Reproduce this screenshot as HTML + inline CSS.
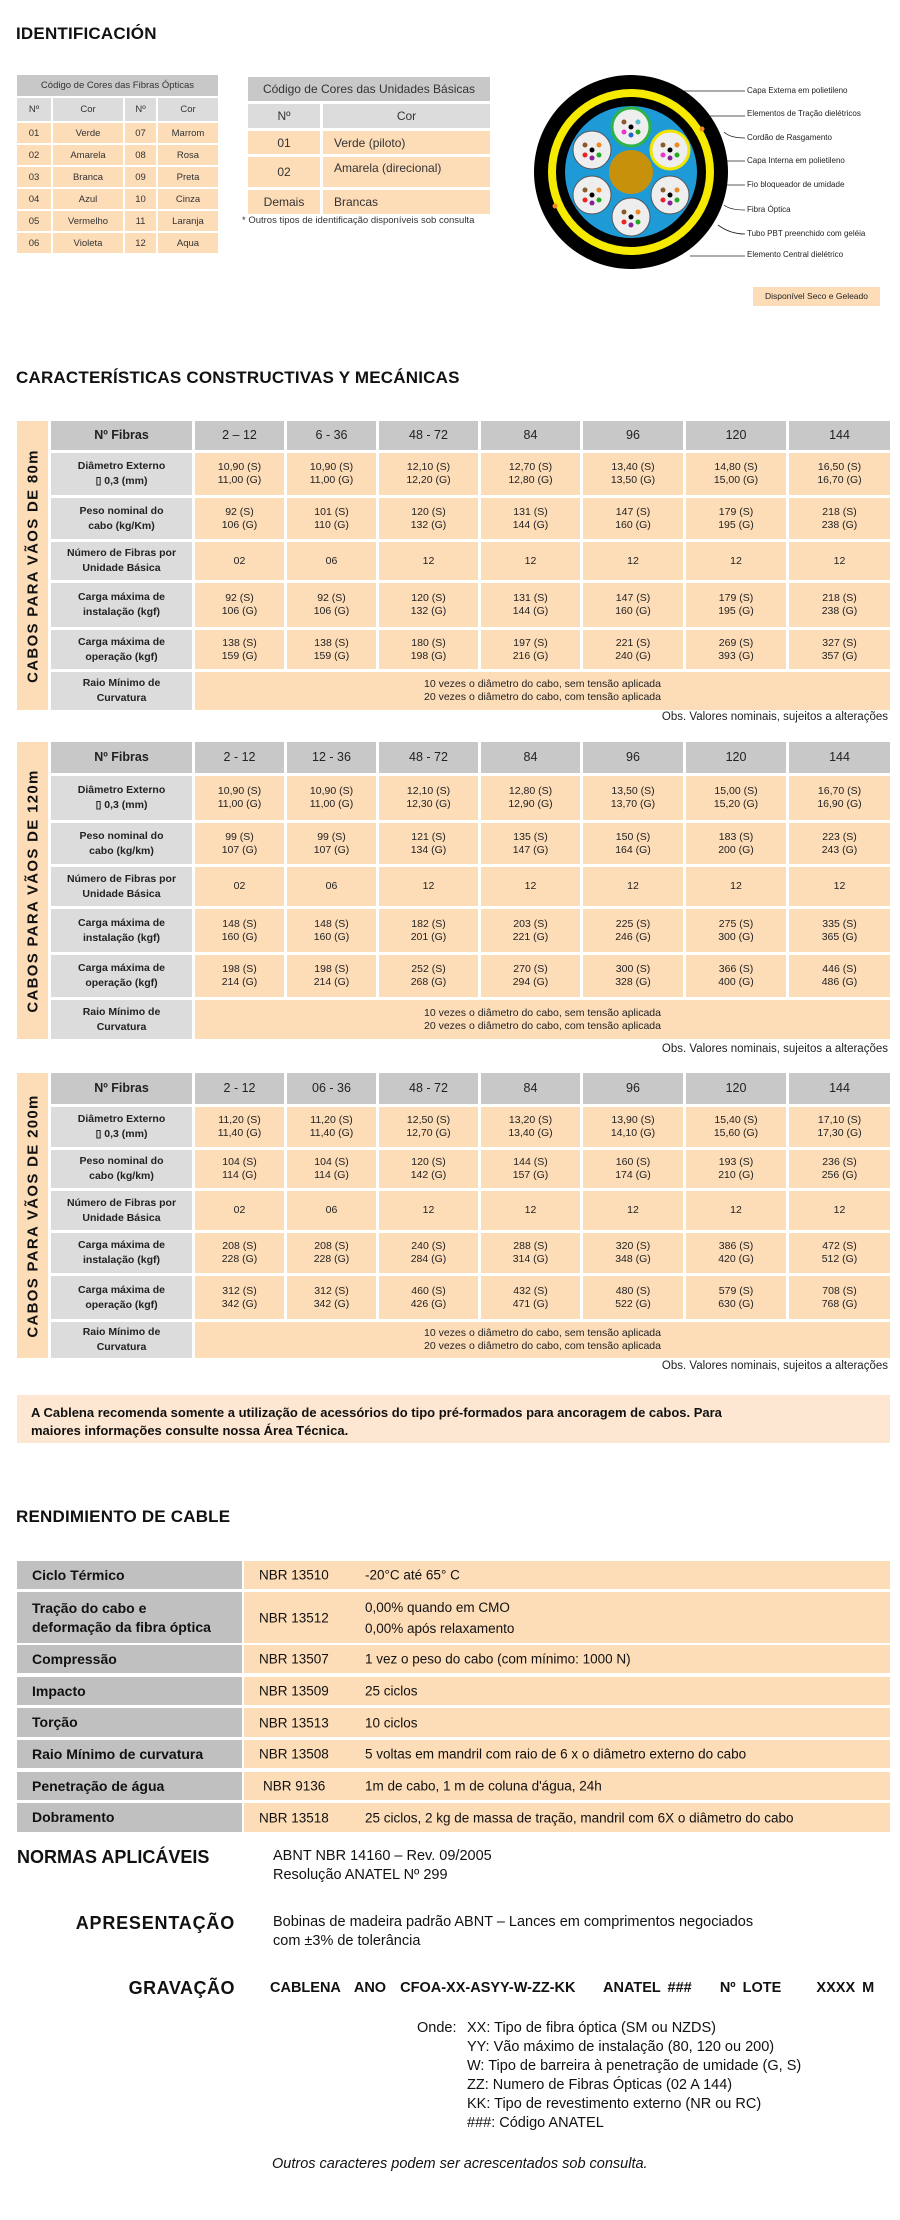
<!DOCTYPE html>
<html><head><meta charset="utf-8">
<style>
*{margin:0;padding:0;box-sizing:border-box}
body{width:900px;height:2220px;position:relative;background:#fff;font-family:"Liberation Sans",Arial,sans-serif;color:#222;overflow:hidden}
.a{position:absolute}
.h1{font-weight:bold;font-size:17px;color:#111;letter-spacing:0.2px}
table{border-collapse:separate;position:absolute}
td{text-align:center;vertical-align:middle;padding:0}
.g{background:#c8c8c8}
.l{background:#dcdcdc;font-weight:bold;font-size:10.5px;line-height:15px}
.p{background:#fddcb8}
.t1{border-spacing:2px;font-size:9.5px;color:#333}
.t1 td{height:20px}
.t2{border-spacing:3px;font-size:12px;color:#333}
.sec{border-spacing:3px;font-size:10.5px;line-height:13px;color:#222}
.sec .hd td{font-size:12.5px}
.sec .hd td.g:first-child{font-weight:bold}
.vl{position:absolute;left:17px;width:31px;background:#fddcb8}
.vl span{position:absolute;left:50%;top:50%;transform:translate(-50%,-50%) rotate(-90deg);white-space:nowrap;font-weight:bold;font-size:15px;letter-spacing:1.3px;color:#111}
.obs{position:absolute;right:12px;font-size:11.5px;color:#222}
.rd{position:absolute;left:17px;width:873px}
.rd .lb{position:absolute;left:0;top:0;bottom:0;width:225px;background:#c0c0c0;font-weight:bold;font-size:14px;padding-left:15px;display:flex;align-items:center;line-height:19px;color:#111}
.rd .rv{position:absolute;left:227px;right:0;top:0;bottom:0;background:#fddcb8;font-size:13.5px;color:#111}
.rd .nb{position:absolute;left:15px;top:50%;transform:translateY(-50%)}
.rd .vv{position:absolute;left:121px;top:50%;transform:translateY(-50%);line-height:21px}
.lab{position:absolute;left:747px;font-size:8px;color:#222;white-space:nowrap}
.bt{font-size:14.5px;color:#111;line-height:19px}
.bh{font-weight:bold;font-size:18px;color:#111}
</style></head><body>

<div class="a h1" style="left:16px;top:24px">IDENTIFICACIÓN</div>

<table class="t1" style="left:15px;top:73px">
<tr><td colspan="4" class="g" style="height:21px">Código de Cores das Fibras Ópticas</td></tr>
<tr><td style="width:34px;background:#dcdcdc;height:23px">Nº</td><td style="width:70px;background:#dcdcdc">Cor</td><td style="width:31px;background:#dcdcdc">Nº</td><td style="width:60px;background:#dcdcdc">Cor</td></tr>
<tr class="p"><td class="p">01</td><td class="p">Verde</td><td class="p">07</td><td class="p">Marrom</td></tr>
<tr><td class="p">02</td><td class="p">Amarela</td><td class="p">08</td><td class="p">Rosa</td></tr>
<tr><td class="p">03</td><td class="p">Branca</td><td class="p">09</td><td class="p">Preta</td></tr>
<tr><td class="p">04</td><td class="p">Azul</td><td class="p">10</td><td class="p">Cinza</td></tr>
<tr><td class="p">05</td><td class="p">Vermelho</td><td class="p">11</td><td class="p">Laranja</td></tr>
<tr><td class="p">06</td><td class="p">Violeta</td><td class="p">12</td><td class="p">Aqua</td></tr>
</table>

<table class="t2" style="left:245px;top:74px">
<tr><td colspan="2" class="g" style="height:24px">Código de Cores das Unidades Básicas</td></tr>
<tr><td style="width:72px;height:24px;background:#dcdcdc">Nº</td><td style="width:167px;background:#dcdcdc">Cor</td></tr>
<tr><td class="p" style="height:23px">01</td><td class="p" style="text-align:left;padding-left:11px">Verde (piloto)</td></tr>
<tr><td class="p" style="height:30px">02</td><td class="p" style="text-align:left;padding-left:11px;vertical-align:top;padding-top:4px">Amarela (direcional)</td></tr>
<tr><td class="p" style="height:24px">Demais</td><td class="p" style="text-align:left;padding-left:11px">Brancas</td></tr>
</table>
<div class="a" style="left:242px;top:215px;font-size:9.5px;color:#333">* Outros tipos de identificação disponíveis sob consulta</div>

<svg class="a" style="left:520px;top:60px" width="380" height="260" viewBox="520 60 380 260">
<g stroke="#222" stroke-width="0.8" fill="none">
<path d="M660 91 H745"/><path d="M690 116 H745"/><path d="M724 132 Q730 138 745 138"/><path d="M710 161 H745"/><path d="M727 185 H745"/><path d="M724 205 Q730 210 745 210"/><path d="M718 225 Q730 234 745 234"/><path d="M690 256 H745"/>
</g>
<circle cx="631" cy="172" r="97" fill="#000"/>
<circle cx="631" cy="172" r="83" fill="#f5ea00"/>
<circle cx="631" cy="172" r="75" fill="#000"/>
<circle cx="631" cy="172" r="66" fill="#1e9ad6"/>
<circle cx="631" cy="172" r="22" fill="#c8910c"/>
<g stroke="#555" stroke-width="1">
<circle cx="631" cy="127" r="19" fill="#eee" stroke="#2db34a" stroke-width="3"/>
<circle cx="670" cy="150" r="19" fill="#eee" stroke="#f0e400" stroke-width="3"/>
<circle cx="670" cy="195" r="19" fill="#eee"/>
<circle cx="631" cy="217" r="19" fill="#eee"/>
<circle cx="592" cy="195" r="19" fill="#eee"/>
<circle cx="592" cy="150" r="19" fill="#eee"/>
</g>
<g>
<circle cx="631" cy="127" r="2.5" fill="#000"/><circle cx="624" cy="122" r="2.5" fill="#8b5a2b"/><circle cx="638" cy="122" r="2.5" fill="#5bc"/><circle cx="624" cy="132" r="2.5" fill="#e3c"/><circle cx="638" cy="132" r="2.5" fill="#2a2"/><circle cx="631" cy="135" r="2.5" fill="#26c"/>
<circle cx="670" cy="150" r="2.5" fill="#000"/><circle cx="663" cy="145" r="2.5" fill="#8b5a2b"/><circle cx="677" cy="145" r="2.5" fill="#e82"/><circle cx="663" cy="155" r="2.5" fill="#e3c"/><circle cx="677" cy="155" r="2.5" fill="#2a2"/><circle cx="670" cy="158" r="2.5" fill="#829"/>
<circle cx="670" cy="195" r="2.5" fill="#000"/><circle cx="663" cy="190" r="2.5" fill="#8b5a2b"/><circle cx="677" cy="190" r="2.5" fill="#e82"/><circle cx="663" cy="200" r="2.5" fill="#e22"/><circle cx="677" cy="200" r="2.5" fill="#2a2"/><circle cx="670" cy="203" r="2.5" fill="#829"/>
<circle cx="631" cy="217" r="2.5" fill="#000"/><circle cx="624" cy="212" r="2.5" fill="#8b5a2b"/><circle cx="638" cy="212" r="2.5" fill="#e82"/><circle cx="624" cy="222" r="2.5" fill="#e22"/><circle cx="638" cy="222" r="2.5" fill="#2a2"/><circle cx="631" cy="225" r="2.5" fill="#829"/>
<circle cx="592" cy="195" r="2.5" fill="#000"/><circle cx="585" cy="190" r="2.5" fill="#8b5a2b"/><circle cx="599" cy="190" r="2.5" fill="#e82"/><circle cx="585" cy="200" r="2.5" fill="#e22"/><circle cx="599" cy="200" r="2.5" fill="#2a2"/><circle cx="592" cy="203" r="2.5" fill="#829"/>
<circle cx="592" cy="150" r="2.5" fill="#000"/><circle cx="585" cy="145" r="2.5" fill="#8b5a2b"/><circle cx="599" cy="145" r="2.5" fill="#e82"/><circle cx="585" cy="155" r="2.5" fill="#e22"/><circle cx="599" cy="155" r="2.5" fill="#2a2"/><circle cx="592" cy="158" r="2.5" fill="#829"/>
</g>
<circle cx="702" cy="129" r="2.5" fill="#e82"/><circle cx="555" cy="206" r="2.5" fill="#e82"/>
<rect x="753" y="287" width="127" height="19" fill="#fddcb8"/>
</svg>
<div class="lab" style="top:86px">Capa Externa em polietileno</div>
<div class="lab" style="top:109px">Elementos de Tração dielétricos</div>
<div class="lab" style="top:133px">Cordão de Rasgamento</div>
<div class="lab" style="top:156px">Capa Interna em polietileno</div>
<div class="lab" style="top:180px">Fio bloqueador de umidade</div>
<div class="lab" style="top:205px">Fibra Óptica</div>
<div class="lab" style="top:229px">Tubo PBT preenchido com geléia</div>
<div class="lab" style="top:250px">Elemento Central dielétrico</div>
<div class="a" style="left:753px;top:291px;width:127px;text-align:center;font-size:8.5px;color:#222">Disponível Seco e Geleado</div>

<div class="a h1" style="left:16px;top:368px">CARACTERÍSTICAS CONSTRUCTIVAS Y MECÁNICAS</div>

<!-- Section 1 -->
<div class="vl" style="top:421px;height:289px"><span>CABOS PARA VÃOS DE 80m</span></div>
<table class="sec" style="left:48px;top:418px">
<tr class="hd"><td class="g" style="width:141px;height:29px">Nº Fibras</td><td class="g" style="width:89px">2 – 12</td><td class="g" style="width:89px">6 - 36</td><td class="g" style="width:99px">48 - 72</td><td class="g" style="width:99px">84</td><td class="g" style="width:100px">96</td><td class="g" style="width:100px">120</td><td class="g" style="width:101px">144</td></tr>
<tr><td class="l" style="height:42px">Diâmetro Externo<br>▯ 0,3 (mm)</td><td class="p">10,90 (S)<br>11,00 (G)</td><td class="p">10,90 (S)<br>11,00 (G)</td><td class="p">12,10 (S)<br>12,20 (G)</td><td class="p">12,70 (S)<br>12,80 (G)</td><td class="p">13,40 (S)<br>13,50 (G)</td><td class="p">14,80 (S)<br>15,00 (G)</td><td class="p">16,50 (S)<br>16,70 (G)</td></tr>
<tr><td class="l" style="height:41px">Peso nominal do<br>cabo (kg/Km)</td><td class="p">92 (S)<br>106 (G)</td><td class="p">101 (S)<br>110 (G)</td><td class="p">120 (S)<br>132 (G)</td><td class="p">131 (S)<br>144 (G)</td><td class="p">147 (S)<br>160 (G)</td><td class="p">179 (S)<br>195 (G)</td><td class="p">218 (S)<br>238 (G)</td></tr>
<tr><td class="l" style="height:38px">Número de Fibras por<br>Unidade Básica</td><td class="p">02</td><td class="p">06</td><td class="p">12</td><td class="p">12</td><td class="p">12</td><td class="p">12</td><td class="p">12</td></tr>
<tr><td class="l" style="height:44px">Carga máxima de<br>instalação (kgf)</td><td class="p">92 (S)<br>106 (G)</td><td class="p">92 (S)<br>106 (G)</td><td class="p">120 (S)<br>132 (G)</td><td class="p">131 (S)<br>144 (G)</td><td class="p">147 (S)<br>160 (G)</td><td class="p">179 (S)<br>195 (G)</td><td class="p">218 (S)<br>238 (G)</td></tr>
<tr><td class="l" style="height:39px">Carga máxima de<br>operação (kgf)</td><td class="p">138 (S)<br>159 (G)</td><td class="p">138 (S)<br>159 (G)</td><td class="p">180 (S)<br>198 (G)</td><td class="p">197 (S)<br>216 (G)</td><td class="p">221 (S)<br>240 (G)</td><td class="p">269 (S)<br>393 (G)</td><td class="p">327 (S)<br>357 (G)</td></tr>
<tr><td class="l" style="height:38px">Raio Mínimo de<br>Curvatura</td><td class="p" colspan="7">10 vezes o diâmetro do cabo, sem tensão aplicada<br>20 vezes o diâmetro do cabo, com tensão aplicada</td></tr>
</table>
<div class="obs" style="top:711px">Obs. Valores nominais, sujeitos a alterações</div>

<!-- Section 2 -->
<div class="vl" style="top:742px;height:297px"><span>CABOS PARA VÃOS DE 120m</span></div>
<table class="sec" style="left:48px;top:739px">
<tr class="hd"><td class="g" style="width:141px;height:31px">Nº Fibras</td><td class="g" style="width:89px">2 - 12</td><td class="g" style="width:89px">12 - 36</td><td class="g" style="width:99px">48 - 72</td><td class="g" style="width:99px">84</td><td class="g" style="width:100px">96</td><td class="g" style="width:100px">120</td><td class="g" style="width:101px">144</td></tr>
<tr><td class="l" style="height:44px">Diâmetro Externo<br>▯ 0,3 (mm)</td><td class="p">10,90 (S)<br>11,00 (G)</td><td class="p">10,90 (S)<br>11,00 (G)</td><td class="p">12,10 (S)<br>12,30 (G)</td><td class="p">12,80 (S)<br>12,90 (G)</td><td class="p">13,50 (S)<br>13,70 (G)</td><td class="p">15,00 (S)<br>15,20 (G)</td><td class="p">16,70 (S)<br>16,90 (G)</td></tr>
<tr><td class="l" style="height:41px">Peso nominal do<br>cabo (kg/km)</td><td class="p">99 (S)<br>107 (G)</td><td class="p">99 (S)<br>107 (G)</td><td class="p">121 (S)<br>134 (G)</td><td class="p">135 (S)<br>147 (G)</td><td class="p">150 (S)<br>164 (G)</td><td class="p">183 (S)<br>200 (G)</td><td class="p">223 (S)<br>243 (G)</td></tr>
<tr><td class="l" style="height:39px">Número de Fibras por<br>Unidade Básica</td><td class="p">02</td><td class="p">06</td><td class="p">12</td><td class="p">12</td><td class="p">12</td><td class="p">12</td><td class="p">12</td></tr>
<tr><td class="l" style="height:43px">Carga máxima de<br>instalação (kgf)</td><td class="p">148 (S)<br>160 (G)</td><td class="p">148 (S)<br>160 (G)</td><td class="p">182 (S)<br>201 (G)</td><td class="p">203 (S)<br>221 (G)</td><td class="p">225 (S)<br>246 (G)</td><td class="p">275 (S)<br>300 (G)</td><td class="p">335 (S)<br>365 (G)</td></tr>
<tr><td class="l" style="height:42px">Carga máxima de<br>operação (kgf)</td><td class="p">198 (S)<br>214 (G)</td><td class="p">198 (S)<br>214 (G)</td><td class="p">252 (S)<br>268 (G)</td><td class="p">270 (S)<br>294 (G)</td><td class="p">300 (S)<br>328 (G)</td><td class="p">366 (S)<br>400 (G)</td><td class="p">446 (S)<br>486 (G)</td></tr>
<tr><td class="l" style="height:39px">Raio Mínimo de<br>Curvatura</td><td class="p" colspan="7">10 vezes o diâmetro do cabo, sem tensão aplicada<br>20 vezes o diâmetro do cabo, com tensão aplicada</td></tr>
</table>
<div class="obs" style="top:1043px">Obs. Valores nominais, sujeitos a alterações</div>

<!-- Section 3 -->
<div class="vl" style="top:1073px;height:285px"><span>CABOS PARA VÃOS DE 200m</span></div>
<table class="sec" style="left:48px;top:1070px">
<tr class="hd"><td class="g" style="width:141px;height:31px">Nº Fibras</td><td class="g" style="width:89px">2 - 12</td><td class="g" style="width:89px">06 - 36</td><td class="g" style="width:99px">48 - 72</td><td class="g" style="width:99px">84</td><td class="g" style="width:100px">96</td><td class="g" style="width:100px">120</td><td class="g" style="width:101px">144</td></tr>
<tr><td class="l" style="height:40px">Diâmetro Externo<br>▯ 0,3 (mm)</td><td class="p">11,20 (S)<br>11,40 (G)</td><td class="p">11,20 (S)<br>11,40 (G)</td><td class="p">12,50 (S)<br>12,70 (G)</td><td class="p">13,20 (S)<br>13,40 (G)</td><td class="p">13,90 (S)<br>14,10 (G)</td><td class="p">15,40 (S)<br>15,60 (G)</td><td class="p">17,10 (S)<br>17,30 (G)</td></tr>
<tr><td class="l" style="height:38px">Peso nominal do<br>cabo (kg/km)</td><td class="p">104 (S)<br>114 (G)</td><td class="p">104 (S)<br>114 (G)</td><td class="p">120 (S)<br>142 (G)</td><td class="p">144 (S)<br>157 (G)</td><td class="p">160 (S)<br>174 (G)</td><td class="p">193 (S)<br>210 (G)</td><td class="p">236 (S)<br>256 (G)</td></tr>
<tr><td class="l" style="height:39px">Número de Fibras por<br>Unidade Básica</td><td class="p">02</td><td class="p">06</td><td class="p">12</td><td class="p">12</td><td class="p">12</td><td class="p">12</td><td class="p">12</td></tr>
<tr><td class="l" style="height:40px">Carga máxima de<br>instalação (kgf)</td><td class="p">208 (S)<br>228 (G)</td><td class="p">208 (S)<br>228 (G)</td><td class="p">240 (S)<br>284 (G)</td><td class="p">288 (S)<br>314 (G)</td><td class="p">320 (S)<br>348 (G)</td><td class="p">386 (S)<br>420 (G)</td><td class="p">472 (S)<br>512 (G)</td></tr>
<tr><td class="l" style="height:43px">Carga máxima de<br>operação (kgf)</td><td class="p">312 (S)<br>342 (G)</td><td class="p">312 (S)<br>342 (G)</td><td class="p">460 (S)<br>426 (G)</td><td class="p">432 (S)<br>471 (G)</td><td class="p">480 (S)<br>522 (G)</td><td class="p">579 (S)<br>630 (G)</td><td class="p">708 (S)<br>768 (G)</td></tr>
<tr><td class="l" style="height:36px">Raio Mínimo de<br>Curvatura</td><td class="p" colspan="7">10 vezes o diâmetro do cabo, sem tensão aplicada<br>20 vezes o diâmetro do cabo, com tensão aplicada</td></tr>
</table>
<div class="obs" style="top:1360px">Obs. Valores nominais, sujeitos a alterações</div>

<div class="a" style="left:17px;top:1395px;width:873px;height:48px;background:#fde6d2;padding:9px 0 0 14px;font-weight:bold;font-size:13px;line-height:18px;color:#111">A Cablena recomenda somente a utilização de acessórios do tipo pré-formados para ancoragem de cabos. Para<br>maiores informações consulte nossa Área Técnica.</div>

<div class="a h1" style="left:16px;top:1507px">RENDIMIENTO DE CABLE</div>

<div class="rd" style="top:1561px;height:28px"><div class="lb">Ciclo Térmico</div><div class="rv"><span class="nb">NBR 13510</span><span class="vv">-20°C até 65° C</span></div></div>
<div class="rd" style="top:1592px;height:51px"><div class="lb">Tração do cabo e<br>deformação da fibra óptica</div><div class="rv"><span class="nb">NBR 13512</span><span class="vv">0,00% quando em CMO<br>0,00% após relaxamento</span></div></div>
<div class="rd" style="top:1645px;height:28px"><div class="lb">Compressão</div><div class="rv"><span class="nb">NBR 13507</span><span class="vv">1 vez o peso do cabo (com mínimo: 1000 N)</span></div></div>
<div class="rd" style="top:1677px;height:28px"><div class="lb">Impacto</div><div class="rv"><span class="nb">NBR 13509</span><span class="vv">25 ciclos</span></div></div>
<div class="rd" style="top:1708px;height:29px"><div class="lb">Torção</div><div class="rv"><span class="nb">NBR 13513</span><span class="vv">10 ciclos</span></div></div>
<div class="rd" style="top:1740px;height:28px"><div class="lb">Raio Mínimo de curvatura</div><div class="rv"><span class="nb">NBR 13508</span><span class="vv">5 voltas em mandril com raio de 6 x o diâmetro externo do cabo</span></div></div>
<div class="rd" style="top:1772px;height:28px"><div class="lb">Penetração de água</div><div class="rv"><span class="nb" style="left:19px">NBR 9136</span><span class="vv">1m de cabo, 1 m de coluna d'água, 24h</span></div></div>
<div class="rd" style="top:1803px;height:29px"><div class="lb">Dobramento</div><div class="rv"><span class="nb">NBR 13518</span><span class="vv">25 ciclos, 2 kg de massa de tração, mandril com 6X o diâmetro do cabo</span></div></div>

<div class="a bh" style="left:17px;top:1847px">NORMAS APLICÁVEIS</div>
<div class="a bt" style="left:273px;top:1847px">ABNT NBR 14160 – Rev. 09/2005<br>Resolução ANATEL Nº 299</div>
<div class="a bh" style="right:665px;top:1913px;letter-spacing:0.8px">APRESENTAÇÃO</div>
<div class="a bt" style="left:273px;top:1913px">Bobinas de madeira padrão ABNT – Lances em comprimentos negociados<br>com ±3% de tolerância</div>
<div class="a bh" style="right:665px;top:1978px;letter-spacing:0.5px">GRAVAÇÃO</div>
<div class="a" style="left:270px;top:1980px;font-weight:bold;font-size:14.5px;color:#111;white-space:pre;word-spacing:3px">CABLENA  ANO  CFOA-XX-ASYY-W-ZZ-KK    ANATEL ###    Nº LOTE     XXXX M</div>
<div class="a bt" style="left:417px;top:2019px">Onde:</div>
<div class="a bt" style="left:467px;top:2019px">XX: Tipo de fibra óptica (SM ou NZDS)<br>YY: Vão máximo de instalação (80, 120 ou 200)<br>W: Tipo de barreira à penetração de umidade (G, S)<br>ZZ: Numero de Fibras Ópticas (02 A 144)<br>KK: Tipo de revestimento externo (NR ou RC)<br>###: Código ANATEL</div>
<div class="a bt" style="left:272px;top:2155px;font-style:italic">Outros caracteres podem ser acrescentados sob consulta.</div>
</body></html>
